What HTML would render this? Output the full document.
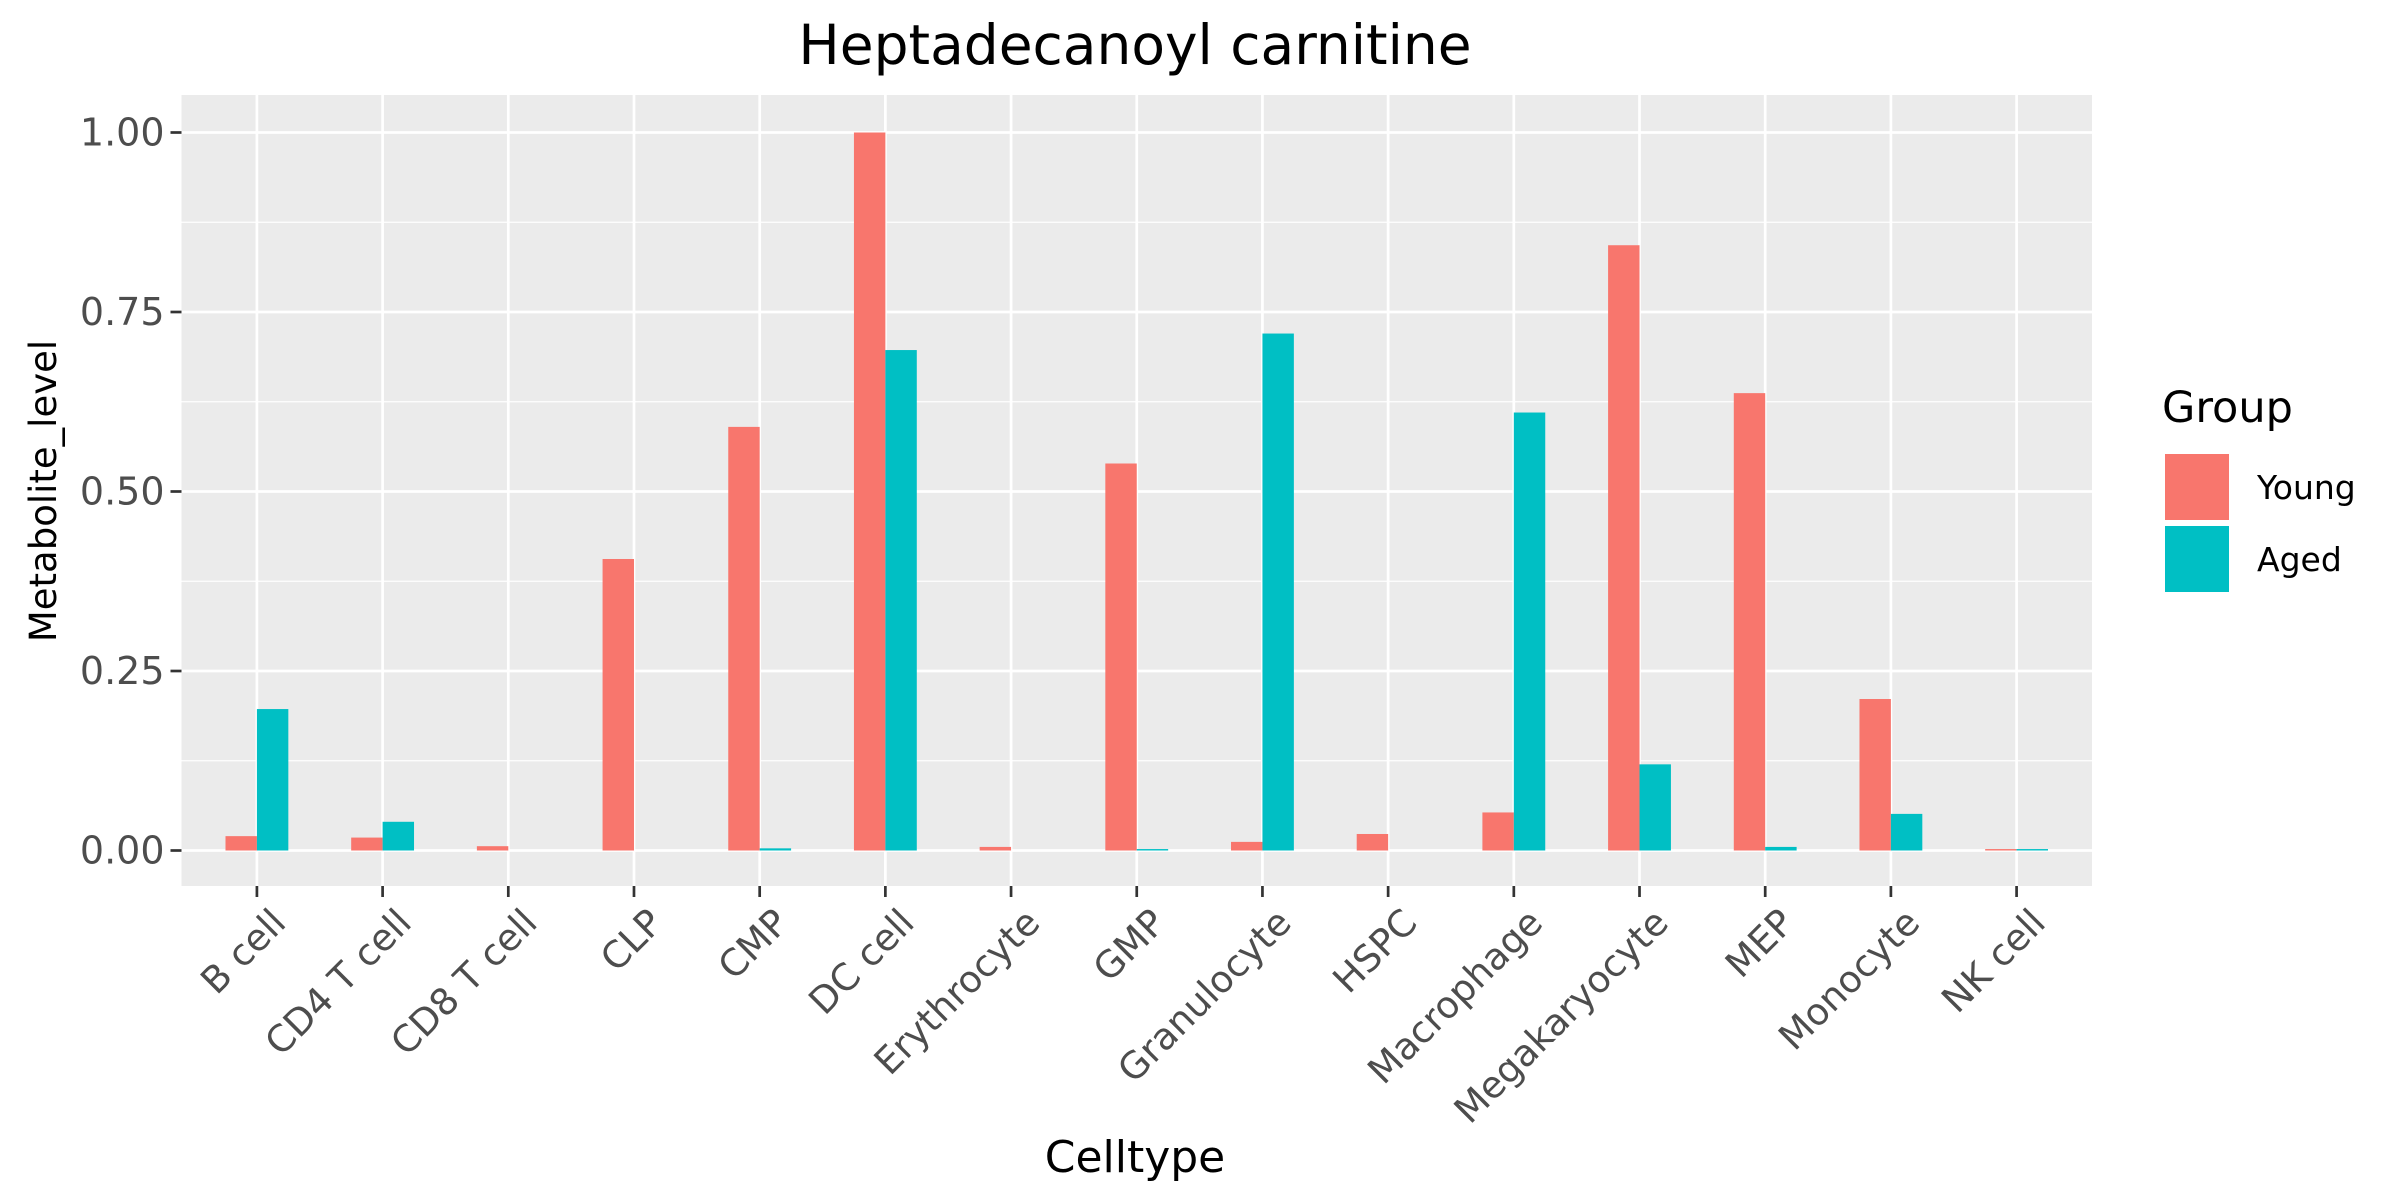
<!DOCTYPE html>
<html><head><meta charset="utf-8"><style>
html,body{margin:0;padding:0;background:#fff;}
svg{display:block;font-family:"DejaVu Sans","Liberation Sans",sans-serif;}
</style></head><body>
<svg id="chart" width="2400" height="1200" viewBox="0 0 2400 1200">
<rect x="181.5" y="95" width="1910.5" height="791" fill="#EBEBEB"/>
<g id="grid"></g><g id="bars"></g><g id="axes"></g>
<text x="1135" y="64" text-anchor="middle" font-size="55" fill="#000">Heptadecanoyl carnitine</text>
<text transform="translate(56,491) rotate(-90)" text-anchor="middle" font-size="37" fill="#000">Metabolite_level</text>
<text x="1135" y="1172" text-anchor="middle" font-size="44" fill="#000">Celltype</text>
<g>
<text x="2162" y="422" font-size="43" fill="#000">Group</text>
<rect x="2165" y="454" width="64" height="66" fill="#F8766D"/>
<text x="2257" y="499" font-size="33" fill="#000">Young</text>
<rect x="2165" y="526" width="64" height="66" fill="#00BFC4"/>
<text x="2257" y="571" font-size="33" fill="#000">Aged</text>
</g>
</svg>
<script>
const categories=["B cell","CD4 T cell","CD8 T cell","CLP","CMP","DC cell","Erythrocyte","GMP","Granulocyte","HSPC","Macrophage","Megakaryocyte","MEP","Monocyte","NK cell"];
const young=[0.02,0.018,0.006,0.406,0.59,1.0,0.005,0.539,0.012,0.023,0.053,0.843,0.637,0.211,0.002];
const aged=[0.197,0.04,0,0,0.003,0.697,0,0.002,0.72,0,0.61,0.12,0.005,0.051,0.002];
const yTicks=[0,0.25,0.5,0.75,1.0];
const yTickLabels=["0.00","0.25","0.50","0.75","1.00"];
const yMinor=[0.125,0.375,0.625,0.875];

const NS="http://www.w3.org/2000/svg";
const L=181.5,R=2092,T=95,B=886;
const step=(R-L)/(categories.length-1+1.2);
function xs(i){return L+step*(0.6+i);}
function ys(v){return 850.5-v*718;}
function mk(tag,attrs,parent){const e=document.createElementNS(NS,tag);for(const k in attrs)e.setAttribute(k,attrs[k]);parent.appendChild(e);return e;}
const grid=document.getElementById('grid'),bars=document.getElementById('bars'),axes=document.getElementById('axes');
yMinor.forEach(v=>{const l=mk('line',{x1:L,x2:R,y1:ys(v),y2:ys(v),stroke:'#fff','stroke-width':1.3},grid);

});
yTicks.forEach((v,i)=>{const l=mk('line',{x1:L,x2:R,y1:ys(v),y2:ys(v),stroke:'#fff','stroke-width':2.7},grid);


const t=mk('line',{x1:L-11,x2:L,y1:ys(v),y2:ys(v),stroke:'#333','stroke-width':2.7},axes);


const tx=mk('text',{x:L-17,y:ys(v)+13,'text-anchor':'end','font-size':38,fill:'#4D4D4D'},axes);
tx.textContent=yTickLabels[i];

});
const bw=step*0.25;
categories.forEach((c,i)=>{const x=xs(i);
const g=mk('line',{x1:x,x2:x,y1:T,y2:B,stroke:'#fff','stroke-width':2.7},grid);


const by=mk('rect',{x:x-bw,y:ys(young[i]),width:bw,height:ys(0)-ys(young[i]),fill:'#F8766D'},bars);


const ba=mk('rect',{x:x,y:ys(aged[i]),width:bw,height:ys(0)-ys(aged[i]),fill:'#00BFC4'},bars);


const t=mk('line',{x1:x,x2:x,y1:B,y2:B+11,stroke:'#333','stroke-width':2.7},axes);


const tx=mk('text',{transform:`translate(${x+12},${B+20}) rotate(-45)`,'text-anchor':'end','font-size':37,fill:'#4D4D4D',dy:'0.72em'},axes);
tx.textContent=c;

});
</script>
</body></html>
